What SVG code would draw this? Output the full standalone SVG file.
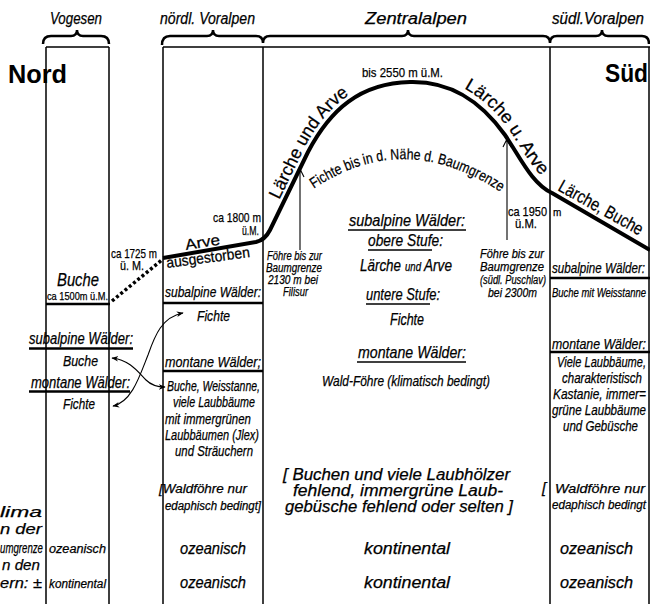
<svg xmlns="http://www.w3.org/2000/svg" width="650" height="604" viewBox="0 0 650 604">
<style>
.t{font-family:"Liberation Sans",Arial,sans-serif;fill:#000;stroke:#000;stroke-width:0.25}
.i{font-style:italic}
.b{font-weight:bold;stroke-width:0}
.ln{stroke:#000;stroke-width:1.5;fill:none}
.th{stroke:#000;stroke-width:2.5;fill:none}
.ul{stroke:#000;stroke-width:1.6;fill:none}
.arr{stroke:#000;stroke-width:1.1;fill:none}
</style>
<defs>
<marker id="ah" viewBox="0 0 10 10" refX="9" refY="5" markerWidth="7" markerHeight="7" markerUnits="userSpaceOnUse" orient="auto-start-reverse">
<path d="M0,1 L10,5 L0,9 L3,5 Z" fill="#000"/>
</marker>
<path id="arcF" d="M312,190 Q405,126 505,195"/>
<path id="arcL1" d="M262,236 L303.5,149.8 C326,106 358,78 410,77"/>
<path id="arcL2" d="M410,76 C452,75 485,95 510,131 C524,152 535,176 556,186"/>
</defs>
<rect width="650" height="604" fill="#fff"/>

<g id="frame">
<path class="th" d="M43,44 Q43,36 51,36 L71,36 Q77,36 77,30 Q77,36 83,36 L101,36 Q109,36 109,44"/>
<path class="th" d="M162,45 Q162,36 170,36 L207,36 Q213,36 213,30 Q213,36 219,36 L256,36 Q263,36 263,43 Q263,36 270,36 L402,36 Q408,36 408,30 Q408,36 414,36 L543,36 Q550,36 550,43 Q550,36 557,36 L596,36 Q602,36 602,30 Q602,36 608,36 L642,36 Q649,36 649,44"/>
<path class="ln" d="M46,47 L109,47 M163,47 L650,47"/>
<path class="ln" d="M46,47 V604 M109,47 V604 M163,47 V604 M263,47 V604 M550,47 V604 M649,47 V604"/>
</g>

<g id="headers">
<text class="t i" x="50" y="24" font-size="16" textLength="52" lengthAdjust="spacingAndGlyphs">Vogesen</text>
<text class="t i" x="160" y="24" font-size="16" textLength="95" lengthAdjust="spacingAndGlyphs">nördl. Voralpen</text>
<text class="t i" x="365" y="24" font-size="16" textLength="102" lengthAdjust="spacingAndGlyphs">Zentralalpen</text>
<text class="t i" x="552" y="24" font-size="16" textLength="92" lengthAdjust="spacingAndGlyphs">südl.Voralpen</text>
<text class="t b" x="8" y="83" font-size="25" textLength="59" lengthAdjust="spacingAndGlyphs">Nord</text>
<text class="t b" x="605" y="82" font-size="25" textLength="43" lengthAdjust="spacingAndGlyphs">Süd</text>
</g>

<g id="treeline">
<path class="th" d="M46,304 L110,304"/>
<path d="M112,301 L163,259" stroke="#000" stroke-width="3.5" stroke-dasharray="3,2.5" fill="none"/>
<path d="M163,258 L256,242 Q265,240 270,230 L308,152 C330,110 360,83 410,82 C450,81 480,100 505,135 C520,157 532,184 552,193 L650,250" stroke="#000" stroke-width="4" fill="none" stroke-linejoin="round"/>
<text class="t" font-size="18"><textPath href="#arcL1" startOffset="40" textLength="128" lengthAdjust="spacingAndGlyphs">Lärche und Arve</textPath></text>
<text class="t" font-size="18"><textPath href="#arcL2" startOffset="56" textLength="118" lengthAdjust="spacingAndGlyphs">Lärche u. Arve</textPath></text>
<text class="t" font-size="18" transform="translate(557,190) rotate(29)" textLength="94" lengthAdjust="spacingAndGlyphs">Lärche, Buche</text>
<text class="t" font-size="15"><textPath href="#arcF" startOffset="2" textLength="200" lengthAdjust="spacingAndGlyphs">Fichte bis in d. Nähe d. Baumgrenze</textPath></text>
<text class="t" x="362" y="77" font-size="13" textLength="81" lengthAdjust="spacingAndGlyphs">bis 2550 m ü.M.</text>
</g>

<g id="col-vogesen">
<text class="t i" x="57" y="286" font-size="19" textLength="42" lengthAdjust="spacingAndGlyphs">Buche</text>
<text class="t" x="47" y="300" font-size="11" textLength="61" lengthAdjust="spacingAndGlyphs">ca 1500m ü.M.</text>
<text class="t" x="111" y="258" font-size="13" textLength="46" lengthAdjust="spacingAndGlyphs">ca 1725 m</text>
<text class="t" x="120" y="270" font-size="13" textLength="24" lengthAdjust="spacingAndGlyphs">ü. M.</text>
<text class="t i" x="29" y="344" font-size="16" textLength="104" lengthAdjust="spacingAndGlyphs">subalpine Wälder:</text>
<path class="th" d="M29,348.5 H133"/>
<text class="t i" x="63" y="366" font-size="15" textLength="35" lengthAdjust="spacingAndGlyphs">Buche</text>
<text class="t i" x="31" y="388" font-size="16" textLength="99" lengthAdjust="spacingAndGlyphs">montane Wälder:</text>
<path class="th" d="M29,391.5 H130"/>
<text class="t i" x="63" y="409" font-size="15" textLength="32" lengthAdjust="spacingAndGlyphs">Fichte</text>
<text class="t i" x="49" y="553" font-size="12" textLength="57" lengthAdjust="spacingAndGlyphs">ozeanisch</text>
<text class="t i" x="49" y="588" font-size="12" textLength="57" lengthAdjust="spacingAndGlyphs">kontinental</text>
</g>

<g id="climate-label">
<text class="t i" x="0" y="517" font-size="15" textLength="42" lengthAdjust="spacingAndGlyphs">lima</text>
<text class="t i" x="0" y="534" font-size="15" textLength="42" lengthAdjust="spacingAndGlyphs">n der</text>
<text class="t i" x="0" y="553" font-size="14" textLength="43" lengthAdjust="spacingAndGlyphs">umgrenze</text>
<text class="t i" x="2" y="570" font-size="15" textLength="38" lengthAdjust="spacingAndGlyphs">n den</text>
<text class="t i" x="0" y="588" font-size="15" textLength="42" lengthAdjust="spacingAndGlyphs">ern: ±</text>
</g>

<g id="col-nord-voralpen">
<text class="t" x="213" y="222" font-size="13" textLength="48" lengthAdjust="spacingAndGlyphs">ca 1800 m</text>
<text class="t" x="242" y="235" font-size="13" textLength="17" lengthAdjust="spacingAndGlyphs">ü.M.</text>
<text class="t" font-size="15" transform="translate(186,250) rotate(-9)" textLength="35" lengthAdjust="spacingAndGlyphs">Arve</text>
<text class="t" font-size="15" transform="translate(167,268) rotate(-7.5)" textLength="84" lengthAdjust="spacingAndGlyphs">ausgestorben</text>
<text class="t i" x="165" y="297" font-size="15" textLength="96" lengthAdjust="spacingAndGlyphs">subalpine Wälder:</text>
<path class="th" d="M163,303 H263"/>
<text class="t i" x="197" y="321" font-size="15" textLength="33" lengthAdjust="spacingAndGlyphs">Fichte</text>
<text class="t i" x="165" y="367" font-size="15" textLength="96" lengthAdjust="spacingAndGlyphs">montane Wälder;</text>
<path class="th" d="M163,371 H263"/>
<text class="t i" x="167" y="391" font-size="14" textLength="93" lengthAdjust="spacingAndGlyphs">Buche, Weisstanne,</text>
<text class="t i" x="173" y="407" font-size="14" textLength="82" lengthAdjust="spacingAndGlyphs">viele Laubbäume</text>
<text class="t i" x="165" y="424" font-size="14" textLength="86" lengthAdjust="spacingAndGlyphs">mit immergrünen</text>
<text class="t i" x="165" y="440" font-size="14" textLength="94" lengthAdjust="spacingAndGlyphs">Laubbäumen (Jlex)</text>
<text class="t i" x="175" y="456" font-size="14" textLength="78" lengthAdjust="spacingAndGlyphs">und Sträuchern</text>
<text class="t i" x="159" y="493" font-size="13" textLength="88" lengthAdjust="spacingAndGlyphs">[Waldföhre nur</text>
<text class="t i" x="165" y="510" font-size="12" textLength="96" lengthAdjust="spacingAndGlyphs">edaphisch bedingt]</text>
<text class="t i" x="180" y="554" font-size="16" textLength="66" lengthAdjust="spacingAndGlyphs">ozeanisch</text>
<text class="t i" x="180" y="588" font-size="16" textLength="66" lengthAdjust="spacingAndGlyphs">ozeanisch</text>
</g>

<g id="col-zentralalpen">
<text class="t i" x="267" y="260" font-size="12" textLength="55" lengthAdjust="spacingAndGlyphs">Föhre bis zur</text>
<text class="t i" x="266" y="272" font-size="12" textLength="56" lengthAdjust="spacingAndGlyphs">Baumgrenze</text>
<text class="t i" x="268" y="284" font-size="12" textLength="50" lengthAdjust="spacingAndGlyphs">2130 m  bei</text>
<text class="t i" x="283" y="296" font-size="12" textLength="25" lengthAdjust="spacingAndGlyphs">Filisur</text>
<text class="t i" x="349" y="226" font-size="17" textLength="116" lengthAdjust="spacingAndGlyphs">subalpine Wälder:</text>
<path class="ul" d="M348,230 H466"/>
<text class="t i" x="368" y="246" font-size="17" textLength="75" lengthAdjust="spacingAndGlyphs">obere Stufe:</text>
<path class="ul" d="M368,250 H432"/>
<text class="t i" x="360" y="271" font-size="16" textLength="41" lengthAdjust="spacingAndGlyphs">Lärche</text>
<text class="t i" x="405" y="271" font-size="12" textLength="16" lengthAdjust="spacingAndGlyphs">und</text>
<text class="t i" x="424" y="271" font-size="16" textLength="28" lengthAdjust="spacingAndGlyphs">Arve</text>
<text class="t i" x="366" y="300" font-size="17" textLength="74" lengthAdjust="spacingAndGlyphs">untere Stufe:</text>
<path class="ul" d="M366,304 H430"/>
<text class="t i" x="390" y="325" font-size="16" textLength="34" lengthAdjust="spacingAndGlyphs">Fichte</text>
<text class="t i" x="358" y="358" font-size="17" textLength="108" lengthAdjust="spacingAndGlyphs">montane Wälder:</text>
<path class="ul" d="M357,362 H466"/>
<text class="t i" x="322" y="386" font-size="14" textLength="168" lengthAdjust="spacingAndGlyphs">Wald-Föhre (klimatisch bedingt)</text>
<text class="t i" x="283" y="480" font-size="16" textLength="227" lengthAdjust="spacingAndGlyphs">[ Buchen und viele Laubhölzer</text>
<text class="t i" x="293" y="496" font-size="16" textLength="210" lengthAdjust="spacingAndGlyphs">fehlend, immergrüne Laub-</text>
<text class="t i" x="285" y="512" font-size="16" textLength="228" lengthAdjust="spacingAndGlyphs">gebüsche fehlend oder selten ]</text>
<text class="t i" x="364" y="554" font-size="16" textLength="86" lengthAdjust="spacingAndGlyphs">kontinental</text>
<text class="t i" x="364" y="588" font-size="16" textLength="86" lengthAdjust="spacingAndGlyphs">kontinental</text>
<text class="t" x="508" y="216" font-size="13" textLength="39" lengthAdjust="spacingAndGlyphs">ca 1950</text>
<text class="t" x="515" y="228" font-size="13" textLength="22" lengthAdjust="spacingAndGlyphs">ü.M.</text>
<text class="t" x="553" y="216" font-size="10">m</text>
<text class="t i" x="480" y="258" font-size="12" textLength="64" lengthAdjust="spacingAndGlyphs">Föhre bis zur</text>
<text class="t i" x="480" y="271" font-size="12" textLength="64" lengthAdjust="spacingAndGlyphs">Baumgrenze</text>
<text class="t i" x="480" y="284" font-size="12" textLength="66" lengthAdjust="spacingAndGlyphs">(südl. Puschlav)</text>
<text class="t i" x="488" y="297" font-size="12" textLength="49" lengthAdjust="spacingAndGlyphs">bei 2300m</text>
</g>

<g id="col-sued-voralpen">
<text class="t i" x="552" y="273" font-size="15" textLength="93" lengthAdjust="spacingAndGlyphs">subalpine Wälder:</text>
<path class="th" d="M550,278 H650"/>
<text class="t i" x="552" y="297" font-size="12" textLength="94" lengthAdjust="spacingAndGlyphs">Buche mit Weisstanne</text>
<text class="t i" x="552" y="349" font-size="15" textLength="94" lengthAdjust="spacingAndGlyphs">montane Wälder:</text>
<path class="th" d="M550,352 H650"/>
<text class="t i" x="557" y="367" font-size="14" textLength="89" lengthAdjust="spacingAndGlyphs">Viele Laubbäume,</text>
<text class="t i" x="562" y="383" font-size="14" textLength="80" lengthAdjust="spacingAndGlyphs">charakteristisch</text>
<text class="t i" x="553" y="399" font-size="14" textLength="93" lengthAdjust="spacingAndGlyphs">Kastanie, immer=</text>
<text class="t i" x="552" y="415" font-size="14" textLength="94" lengthAdjust="spacingAndGlyphs">grüne Laubbäume</text>
<text class="t i" x="563" y="431" font-size="14" textLength="75" lengthAdjust="spacingAndGlyphs">und Gebüsche</text>
<text class="t i" x="542" y="493" font-size="15">[</text>
<text class="t i" x="555" y="493" font-size="13" textLength="90" lengthAdjust="spacingAndGlyphs">Waldföhre nur</text>
<text class="t i" x="552" y="509" font-size="12" textLength="94" lengthAdjust="spacingAndGlyphs">edaphisch bedingt</text>
<text class="t i" x="560" y="554" font-size="16" textLength="73" lengthAdjust="spacingAndGlyphs">ozeanisch</text>
<text class="t i" x="560" y="588" font-size="16" textLength="73" lengthAdjust="spacingAndGlyphs">ozeanisch</text>
</g>

<g id="connectors">
<path class="arr" d="M300,250 V170 M296,177 L300,169 L304,177"/>
<path class="arr" d="M507,240 V140 M503,147 L507,139 L511,147"/>
<path class="arr" marker-start="url(#ah)" marker-end="url(#ah)" d="M113,406 C132,402 140,375 148,355 C155,335 162,317 183,313"/>
<path class="arr" marker-start="url(#ah)" marker-end="url(#ah)" d="M112,358 C130,360 138,372 146,380 C152,386 158,387 165,387"/>
</g>
</svg>
